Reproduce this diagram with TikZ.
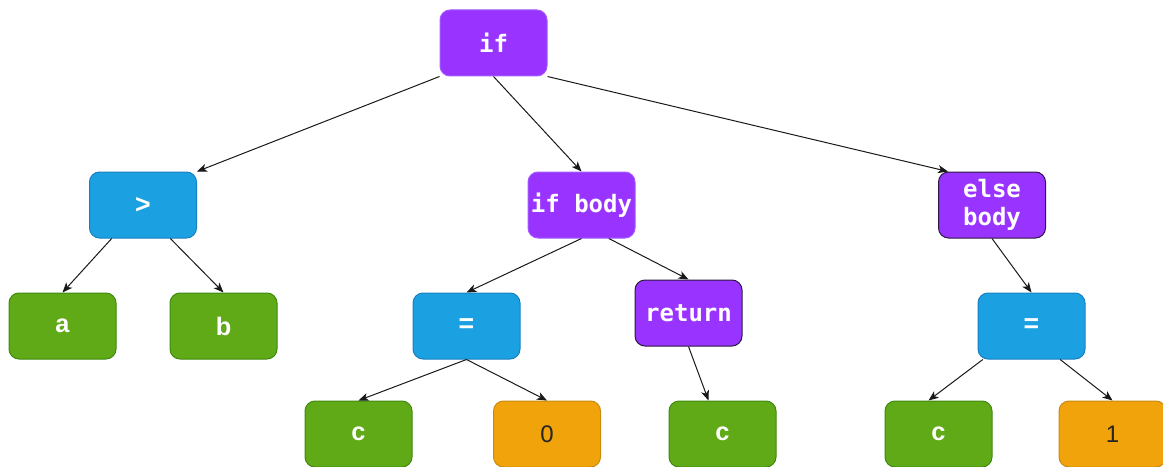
\documentclass[tikz,border=0pt]{standalone}
\usepackage{fontspec}
\setmainfont{Liberation Sans}
\newfontfamily\codefont{DejaVu Sans Mono}
\newfontfamily\labelfont{Liberation Sans}
\usetikzlibrary{arrows.meta,positioning,calc}
\definecolor{purp}{HTML}{9933FF}
\definecolor{purpline}{HTML}{A35BFF}
\definecolor{purpdark}{HTML}{2B1A40}
\definecolor{bluef}{HTML}{1BA1E2}
\definecolor{bluel}{HTML}{1A7FC0}
\definecolor{greenf}{HTML}{60A917}
\definecolor{greenl}{HTML}{3F8A10}
\definecolor{orangef}{HTML}{F0A30A}
\definecolor{orangel}{HTML}{C98A10}
\tikzset{
  box/.style={rectangle, rounded corners=7.5pt, minimum width=80.25pt, minimum height=49.5pt, inner sep=0pt, line width=0.75pt, align=center},
  kw/.style={box, fill=purp, draw=purpline, text=white, font=\codefont\bfseries\fontsize{18}{21}\selectfont},
  kwd/.style={kw, draw=purpdark},
  op/.style={box, fill=bluef, draw=bluel, text=white, font=\labelfont\bfseries\fontsize{20}{24}\selectfont},
  var/.style={box, fill=greenf, draw=greenl, text=white, font=\labelfont\bfseries\fontsize{19}{22}\selectfont},
  num/.style={box, fill=orangef, draw=orangel, text=black!85, font=\labelfont\fontsize{18}{21}\selectfont},
  arr/.style={-{Stealth[length=7.5pt,width=6pt,inset=2pt]}, line width=0.75pt, black!90}
}
\begin{document}
\begin{tikzpicture}[x=0.75pt,y=-0.75pt]
\useasboundingbox (0,0) rectangle (1163,467);
\node[kw]  (if)     at (493.5,43) {if};
\node[op]  (gt)     at (143,205)  {>};
\node[kw]  (ifbody) at (581.5,205) {if body};
\node[kwd] (elsebody) at (992,205) {else\\body};
\node[var] (a)      at (62.5,326) {a};
\node[var] (b)      at (223.5,326) {b};
\node[op]  (eqA)    at (466.5,326) {=};
\node[kwd] (ret)    at (688.5,313) {return};
\node[op]  (eqB)    at (1031.5,326) {=};
\node[var] (cA)     at (358.5,434) {c};
\node[num] (zero)   at (547,434) {0};
\node[var] (cB)     at (722.5,434) {c};
\node[var] (cC)     at (938.5,434) {c};
\node[num] (one)    at (1112.5,434) {1};

\draw[arr] (if.south west) -- (gt.north east);
\draw[arr] (if.south) -- (ifbody.north);
\draw[arr] (if.south east) -- ([xshift=7.5pt]elsebody.north west);
\draw[arr] ([xshift=17pt]gt.south west) -- (a.north);
\draw[arr] ([xshift=-20pt]gt.south east) -- (b.north);
\draw[arr] (ifbody.south) -- (eqA.north);
\draw[arr] ([xshift=-20pt]ifbody.south east) -- (ret.north);
\draw[arr] (eqA.south) -- (cA.north);
\draw[arr] (eqA.south) -- (zero.north);
\draw[arr] (ret.south) -- ([xshift=-10.5pt]cB.north);
\draw[arr] (elsebody.south) -- (eqB.north);
\draw[arr] ([xshift=4pt]eqB.south west) -- ([xshift=-7.5pt]cC.north);
\draw[arr] ([xshift=-19pt]eqB.south east) -- (one.north);
\end{tikzpicture}
\end{document}
